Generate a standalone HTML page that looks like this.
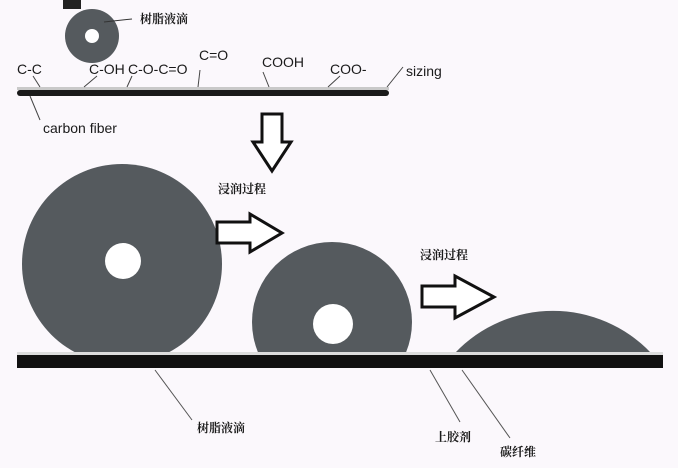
<!DOCTYPE html>
<html><head><meta charset="utf-8"><style>
html,body{margin:0;padding:0;background:#fbf8fc;}
svg{display:block}
text{font-family:"Liberation Sans","Noto Sans CJK SC",sans-serif;fill:#1a1a1a}
.cn{font-family:"Noto Serif CJK SC","Noto Sans CJK SC",serif;font-weight:bold;font-size:12px}
</style></head><body>
<svg width="678" height="468" viewBox="0 0 678 468" xmlns="http://www.w3.org/2000/svg">
<rect width="678" height="468" fill="#fbf8fc"/>
<rect x="63" y="0" width="18" height="9" fill="#222"/>
<circle cx="92" cy="36" r="27" fill="#555a5e"/>
<circle cx="92" cy="36" r="7" fill="#fff"/>
<line x1="104" y1="22" x2="132" y2="19" stroke="#333" stroke-width="1"/>
<text x="140" y="23" class="cn">树脂液滴</text>
<rect x="17" y="87" width="372" height="3" fill="#c9c9c9"/>
<rect x="17" y="90" width="372" height="6" rx="3" fill="#1a1a1a"/>
<g font-size="14">
<text x="17" y="74">C-C</text>
<text x="89" y="74">C-OH</text>
<text x="128" y="74">C-O-C=O</text>
<text x="199" y="60">C=O</text>
<text x="262" y="67">COOH</text>
<text x="330" y="74">COO-</text>
<text x="406" y="76">sizing</text>
<text x="43" y="133">carbon fiber</text>
</g>
<g stroke="#444" stroke-width="1" fill="none">
<line x1="33" y1="76" x2="40" y2="87"/>
<line x1="97" y1="76" x2="84" y2="87"/>
<line x1="132" y1="76" x2="127" y2="87"/>
<line x1="200" y1="70" x2="198" y2="87"/>
<line x1="263" y1="72" x2="269" y2="87"/>
<line x1="340" y1="76" x2="328" y2="87"/>
<line x1="403" y1="67" x2="387" y2="87"/>
<line x1="30" y1="96" x2="40" y2="120"/>
</g>
<polygon points="262,114 282,114 282,142 291,142 272,171 253,142 262,142" fill="#fff" stroke="#111" stroke-width="3"/>
<text x="218" y="193" class="cn">浸润过程</text>
<circle cx="122" cy="264" r="100" fill="#555a5e"/>
<circle cx="123" cy="261" r="18" fill="#fff"/>
<polygon points="217,222 250,222 250,214 282,233 250,252 250,243 217,243" fill="#fff" stroke="#111" stroke-width="3"/>
<clipPath id="c1"><rect x="0" y="0" width="678" height="352"/></clipPath>
<circle cx="332" cy="322" r="80" fill="#555a5e" clip-path="url(#c1)"/>
<circle cx="333" cy="324" r="20" fill="#fff"/>
<text x="420" y="259" class="cn">浸润过程</text>
<polygon points="422,286 455,286 455,276 494,297 455,318 455,307 422,307" fill="#fff" stroke="#111" stroke-width="3"/>
<path d="M455,353 A135 135 0 0 1 651,353 Z" fill="#555a5e"/>
<rect x="17" y="352" width="646" height="3" fill="#ddd"/>
<rect x="17" y="355" width="646" height="13" fill="#111"/>
<g stroke="#555" stroke-width="1">
<line x1="155" y1="370" x2="192" y2="420"/>
<line x1="430" y1="370" x2="460" y2="422"/>
<line x1="462" y1="370" x2="510" y2="438"/>
</g>
<text x="197" y="432" class="cn">树脂液滴</text>
<text x="435" y="441" class="cn">上胶剂</text>
<text x="500" y="456" class="cn">碳纤维</text>
</svg>
</body></html>
